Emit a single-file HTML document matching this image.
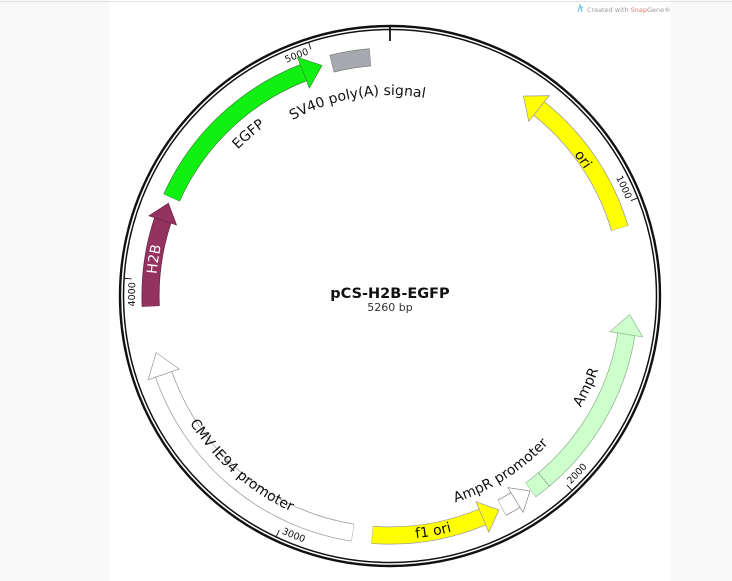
<!DOCTYPE html>
<html><head><meta charset="utf-8"><style>
html,body{margin:0;padding:0;width:732px;height:581px;overflow:hidden;background:#f8f8f9;}
svg{display:block;overflow:hidden;}
text{font-family:"DejaVu Sans","Liberation Sans",sans-serif;}
</style></head><body>
<svg width="732" height="581" viewBox="0 0 732 581" xmlns="http://www.w3.org/2000/svg">
<defs>
<path id="cw255" d="M390,41 A255 255 0 1 1 390,551 A255 255 0 1 1 390,41"/>
<path id="ccw261" d="M390,35 A261 261 0 1 0 390,557 A261 261 0 1 0 390,35"/>
<path id="cw201b" d="M390,497 A201 201 0 1 1 390,95 A201 201 0 1 1 390,497"/>
<path id="cw211" d="M390,85 A211 211 0 1 1 390,507 A211 211 0 1 1 390,85"/>
<path id="cw235" d="M390,61.5 A234.5 234.5 0 1 1 390,530.5 A234.5 234.5 0 1 1 390,61.5"/>
<path id="cw232" d="M390,64 A232 232 0 1 1 390,528 A232 232 0 1 1 390,64"/>
<path id="ccw220" d="M390,75 A221 221 0 1 0 390,517 A221 221 0 1 0 390,75"/>
<path id="ccw216" d="M390,79.5 A216.5 216.5 0 1 0 390,512.5 A216.5 216.5 0 1 0 390,79.5"/>
<path id="ccw243" d="M390,52.5 A243.5 243.5 0 1 0 390,539.5 A243.5 243.5 0 1 0 390,52.5"/>
<path id="ccw236" d="M390,59 A237 237 0 1 0 390,533 A237 237 0 1 0 390,59"/>
</defs>
<rect x="0" y="0" width="732" height="581" fill="#f8f8f9"/>
<rect x="110" y="0" width="560" height="581" fill="#ffffff"/>
<rect x="0" y="1" width="732" height="1" fill="#e2e2e4"/>
<path d="M578,12 L580,5 L582,12 M580.5,9 L583,7" stroke="#6cc4e6" stroke-width="1.2" fill="none"/>
<text x="587" y="12" font-size="6.5" fill="#999">Created with <tspan fill="#e8786d">Snap</tspan>Gene®</text>

<!-- ring -->
<circle cx="390" cy="296" r="270" fill="none" stroke="#111" stroke-width="2.4"/>
<circle cx="390" cy="296" r="266.5" fill="none" stroke="#111" stroke-width="1.5"/>
<line x1="390" y1="26" x2="390" y2="41" stroke="#111" stroke-width="1.8"/>

<!-- ticks -->
<g stroke="#111" stroke-width="0.9">
<line x1="390" y1="30" x2="390" y2="37" transform="rotate(68.4 390 296)"/>
<line x1="390" y1="30" x2="390" y2="37" transform="rotate(136.9 390 296)"/>
<line x1="390" y1="30" x2="390" y2="37" transform="rotate(205.3 390 296)"/>
<line x1="390" y1="30" x2="390" y2="37" transform="rotate(273.8 390 296)"/>
<line x1="390" y1="30" x2="390" y2="37" transform="rotate(342.2 390 296)"/>
</g>
<g font-size="9.5" fill="#111">
<text><textPath href="#cw255" startOffset="94.86%" text-anchor="end">5000</textPath></text>
<text><textPath href="#cw255" startOffset="18.83%" text-anchor="end">1000</textPath></text>
<text><textPath href="#cw255" startOffset="75.86%" text-anchor="end">4000</textPath></text>
<text><textPath href="#ccw261" startOffset="43.17%" text-anchor="start">3000</textPath></text>
<text><textPath href="#ccw261" startOffset="62.17%" text-anchor="start">2000</textPath></text>
</g>

<!-- feature bodies -->
<g fill="none">
<circle cx="390" cy="296" r="239.5" pathLength="360" stroke="#6b2345" stroke-width="18" stroke-dasharray="21.1 400" transform="rotate(177.5 390 296)"/>
<circle cx="390" cy="296" r="239.5" pathLength="360" stroke="#943260" stroke-width="16.5" stroke-dasharray="20.9 400" transform="rotate(177.6 390 296)"/>
<circle cx="390" cy="296" r="239.5" pathLength="360" stroke="#3a8a3a" stroke-width="18" stroke-dasharray="44.8 400" transform="rotate(204.2 390 296)"/>
<circle cx="390" cy="296" r="239.5" pathLength="360" stroke="#11f111" stroke-width="16.5" stroke-dasharray="44.6 400" transform="rotate(204.3 390 296)"/>
<circle cx="390" cy="296" r="239.5" pathLength="360" stroke="#777" stroke-width="18" stroke-dasharray="9.4 400" transform="rotate(255.9 390 296)"/>
<circle cx="390" cy="296" r="239.5" pathLength="360" stroke="#a6a9b0" stroke-width="16.5" stroke-dasharray="9.2 400" transform="rotate(256 390 296)"/>
<circle cx="390" cy="296" r="239.5" pathLength="360" stroke="#999" stroke-width="18" stroke-dasharray="35.3 400" transform="rotate(-51.7 390 296)"/>
<circle cx="390" cy="296" r="239.5" pathLength="360" stroke="#ffff00" stroke-width="16.5" stroke-dasharray="35.1 400" transform="rotate(-51.6 390 296)"/>
<circle cx="390" cy="296" r="239.5" pathLength="360" stroke="#8fb58f" stroke-width="18" stroke-dasharray="45.1 400" transform="rotate(9 390 296)"/>
<circle cx="390" cy="296" r="239.5" pathLength="360" stroke="#ccffcc" stroke-width="16.5" stroke-dasharray="44.9 400" transform="rotate(9.1 390 296)"/>
<circle cx="390" cy="296" r="239.5" pathLength="360" stroke="#888" stroke-width="18" stroke-dasharray="4 400" transform="rotate(58.2 390 296)"/>
<circle cx="390" cy="296" r="239.5" pathLength="360" stroke="#fff" stroke-width="16.5" stroke-dasharray="3.8 400" transform="rotate(58.3 390 296)"/>
<circle cx="390" cy="296" r="239.5" pathLength="360" stroke="#999" stroke-width="18" stroke-dasharray="27.2 400" transform="rotate(67.1 390 296)"/>
<circle cx="390" cy="296" r="239.5" pathLength="360" stroke="#ffff00" stroke-width="16.5" stroke-dasharray="27 400" transform="rotate(67.2 390 296)"/>
<circle cx="390" cy="296" r="239.5" pathLength="360" stroke="#999" stroke-width="18" stroke-dasharray="62.2 400" transform="rotate(98.9 390 296)"/>
<circle cx="390" cy="296" r="239.5" pathLength="360" stroke="#fff" stroke-width="16.5" stroke-dasharray="62 400" transform="rotate(99 390 296)"/>
</g>
<line x1="390" y1="48" x2="390" y2="65" stroke="#555" stroke-width="0.7" stroke-dasharray="1.5 1" transform="rotate(140 390 296)"/>

<!-- arrowheads -->
<g stroke-width="0.7">
<polygon points="390,42 390,71 408,56.5" fill="#943260" stroke="#6b2345" transform="rotate(288.4 390 296)"/>
<polygon points="390,40 390,73 410,56.5" fill="#11f111" stroke="#3a8a3a" transform="rotate(338.8 390 296)"/>
<polygon points="390,40 390,73 370,56.5" fill="#ffff00" stroke="#999" transform="rotate(38.5 390 296)"/>
<polygon points="390,40 390,73 370,56.5" fill="#ccffcc" stroke="#8fb58f" transform="rotate(99.2 390 296)"/>
<polygon points="390,42 390,71 373,56.5" fill="#fff" stroke="#888" transform="rotate(148.4 390 296)"/>
<polygon points="390,40 390,73 372,56.5" fill="#ffff00" stroke="#999" transform="rotate(157.3 390 296)"/>
<polygon points="390,40 390,73 413,56.5" fill="#fff" stroke="#999" transform="rotate(250.9 390 296)"/>
</g>

<!-- feature labels -->
<g font-size="14" fill="#111">
<text><textPath href="#cw201b" startOffset="47.36%" text-anchor="middle">SV40 poly(A) signal</textPath></text>
<text><textPath href="#cw211" startOffset="88.56%" text-anchor="middle">EGFP</textPath></text>
<text fill="#fff"><textPath href="#cw235" startOffset="77.47%" text-anchor="middle">H2B</textPath></text>
<text><textPath href="#cw232" startOffset="15.19%" text-anchor="middle">ori</textPath></text>
<text><textPath href="#ccw220" startOffset="68.08%" text-anchor="middle">AmpR</textPath></text>
<text><textPath href="#ccw216" startOffset="58.97%" text-anchor="middle">AmpR promoter</textPath></text>
<text><textPath href="#ccw243" startOffset="52.89%" text-anchor="middle">f1 ori</textPath></text>
<text><textPath href="#ccw236" startOffset="38.56%" text-anchor="middle">CMV IE94 promoter</textPath></text>
</g>

<text x="390" y="298" text-anchor="middle" font-size="14.5" font-weight="bold" fill="#111">pCS-H2B-EGFP</text>
<text x="390" y="311" text-anchor="middle" font-size="11" fill="#333">5260 bp</text>
</svg>
</body></html>
